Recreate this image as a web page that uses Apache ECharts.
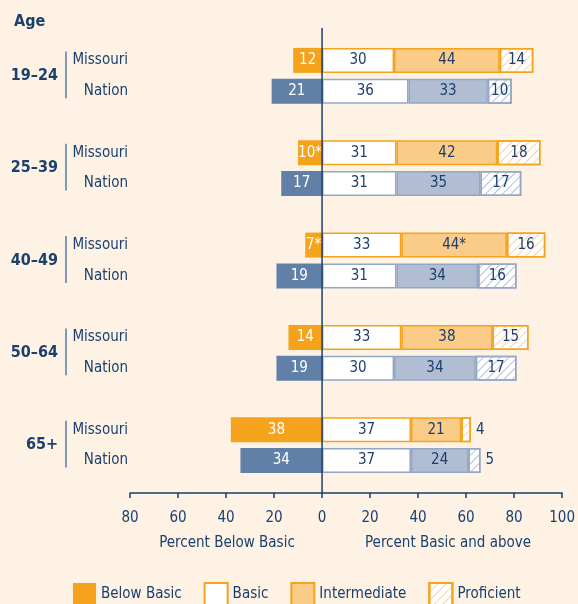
<!DOCTYPE html>
<html>
<head>
<meta charset="utf-8">
<script src="https://cdn.jsdelivr.net/npm/echarts@6/dist/echarts.min.js"></script>
<style>
  html, body { margin: 0; padding: 0; background: #FDF2E4; }
  #chart { width: 578px; height: 604px; }
</style>
</head>
<body>
<div id="chart"></div>
<script>
// data
const ageGroups = ['19–24', '25–39', '40–49', '50–64', '65+']
const places = ['Missouri', 'Nation']
const missouriBelow = [12, 10, 7, 14, 38]
const nationBelow = [21, 17, 19, 19, 34]
const missouriBasic = [30, 31, 33, 33, 37]
const nationBasic = [36, 31, 31, 30, 37]
const missouriInter = [44, 42, 44, 38, 21]
const nationInter = [33, 35, 34, 34, 24]
const missouriProf = [14, 18, 16, 15, 4]
const nationProf = [10, 17, 16, 17, 5]
const missouriBelowStar = [false, true, true, false, false]
const missouriInterStar = [false, false, true, false, false]
const xTicks = [-80, -60, -40, -20, 0, 20, 40, 60, 80, 100]

const FONT = '"DejaVu Sans Condensed", "Liberation Sans Narrow", sans-serif'
const NAVY = '#1B3F6E'
const ORANGE = '#F5A21C'
const ORANGE_LIGHT = '#FBCB88'
const ORANGE_HATCH = '#F9D3A0'
const BLUE = '#6180A8'
const BLUE_LIGHT = '#B1BDD3'
const BLUE_BORDER = '#93A6C4'
const BLUE_HATCH = '#B3C0D6'

// categories: Missouri, Nation, spacer per age group
const cats = []
ageGroups.forEach((g, i) => {
  cats.push(g + '|' + places[0])
  cats.push(g + '|' + places[1])
  if (i < ageGroups.length - 1) cats.push(g + '|')
})

function hatch(color) {
  return {
    symbol: 'rect',
    symbolSize: 1,
    dashArrayX: [1, 0],
    dashArrayY: [1, 5],
    rotation: -Math.PI / 4,
    color: color
  }
}

function build(mo, na, styleMo, styleNa, labelFn) {
  const out = []
  ageGroups.forEach((g, i) => {
    out.push({ value: mo[i], itemStyle: styleMo, label: labelFn(mo[i], i, 0) })
    out.push({ value: na[i], itemStyle: styleNa, label: labelFn(na[i], i, 1) })
    if (i < ageGroups.length - 1) out.push(null)
  })
  return out
}

const chart = echarts.init(document.getElementById('chart'))

const labelBase = {
  show: true,
  fontFamily: FONT,
  fontSize: 15,
  color: NAVY
}

chart.setOption({
  backgroundColor: '#FDF2E4',
  textStyle: { fontFamily: FONT },
  animation: false,
  title: {
    text: 'Age',
    left: 14,
    top: 14,
    padding: 0,
    textStyle: { fontFamily: FONT, fontSize: 16, fontWeight: 'bold', color: NAVY }
  },
  legend: {
    left: 73,
    top: 582,
    padding: 0,
    icon: 'rect',
    itemWidth: 23,
    itemHeight: 22,
    itemGap: 22,
    textStyle: { fontFamily: FONT, fontSize: 15, color: NAVY }
  },
  grid: { left: 130, right: 15, top: 45, height: 431 },
  xAxis: {
    type: 'value',
    min: -80,
    max: 100,
    interval: 20,
    offset: 17,
    splitLine: { show: false },
    axisLine: { show: true, lineStyle: { color: NAVY, width: 1.5 } },
    axisTick: { show: true, length: 5, lineStyle: { color: NAVY, width: 1.5 } },
    axisLabel: {
      margin: 18,
      fontSize: 15,
      color: NAVY,
      fontFamily: FONT,
      formatter: v => xTicks.includes(v) ? String(Math.abs(v)) : ''
    }
  },
  yAxis: [
    {
      type: 'category',
      inverse: true,
      data: cats,
      position: 'left',
      axisLine: { show: false, onZero: false },
      axisTick: { show: false },
      axisLabel: {
        margin: 2,
        fontSize: 15,
        color: NAVY,
        fontFamily: FONT,
        formatter: v => v.split('|')[1]
      }
    },
    {
      type: 'category',
      inverse: true,
      data: cats,
      position: 'left',
      offset: 64,
      axisLine: { show: false, onZero: false },
      axisTick: { show: false },
      axisLabel: {
        margin: 8,
        fontSize: 16,
        fontWeight: 'bold',
        color: NAVY,
        fontFamily: FONT,
        lineHeight: 31,
        formatter: v => v.split('|')[1] === places[0] ? '\n' + v.split('|')[0] : ''
      }
    }
  ],
  series: [
    {
      name: 'Below Basic',
      type: 'bar',
      stack: 'total',
      barWidth: 25,
      itemStyle: { color: ORANGE },
      data: build(missouriBelow.map(v => -v), nationBelow.map(v => -v),
        { color: ORANGE }, { color: BLUE },
        (v, i, p) => ({ ...labelBase, color: '#fff',
          formatter: Math.abs(v) + (p === 0 && missouriBelowStar[i] ? '*' : '') }))
    },
    {
      name: 'Basic',
      type: 'bar',
      stack: 'total',
      barWidth: 25,
      itemStyle: { color: '#fff', borderColor: ORANGE, borderWidth: 1.5 },
      data: build(missouriBasic, nationBasic,
        { color: '#fff', borderColor: ORANGE, borderWidth: 1.5 },
        { color: '#fff', borderColor: BLUE_BORDER, borderWidth: 1.5 },
        v => ({ ...labelBase, formatter: String(v) }))
    },
    {
      name: 'Intermediate',
      type: 'bar',
      stack: 'total',
      barWidth: 25,
      itemStyle: { color: ORANGE_LIGHT, borderColor: ORANGE, borderWidth: 1.5 },
      data: build(missouriInter, nationInter,
        { color: ORANGE_LIGHT, borderColor: ORANGE, borderWidth: 1.5 },
        { color: BLUE_LIGHT, borderColor: BLUE_BORDER, borderWidth: 1.5 },
        (v, i, p) => ({ ...labelBase,
          formatter: v + (p === 0 && missouriInterStar[i] ? '*' : '') }))
    },
    {
      name: 'Proficient',
      type: 'bar',
      stack: 'total',
      barWidth: 25,
      itemStyle: { color: '#fff', borderColor: ORANGE, borderWidth: 1.5, decal: hatch(ORANGE_HATCH) },
      data: build(missouriProf, nationProf,
        { color: '#fff', borderColor: ORANGE, borderWidth: 1.5, decal: hatch(ORANGE_HATCH) },
        { color: '#fff', borderColor: BLUE_BORDER, borderWidth: 1.5, decal: hatch(BLUE_HATCH) },
        v => v < 6
          ? { ...labelBase, position: 'right', distance: 5, formatter: String(v) }
          : { ...labelBase, formatter: String(v) })
    }
  ]
})

// zero line, group separators, axis captions
const x0 = chart.convertToPixel({ xAxisIndex: 0 }, 0)
const graphics = [
  {
    type: 'line',
    shape: { x1: x0, y1: 28, x2: x0, y2: 493 },
    style: { stroke: NAVY, lineWidth: 1.5 },
    z: 10
  },
  {
    type: 'text',
    style: { text: 'Percent Below Basic', x: 227, y: 543, align: 'center', verticalAlign: 'middle',
      font: '15px ' + FONT, fill: NAVY }
  },
  {
    type: 'text',
    style: { text: 'Percent Basic and above', x: 448, y: 543, align: 'center', verticalAlign: 'middle',
      font: '15px ' + FONT, fill: NAVY }
  }
]
ageGroups.forEach(g => {
  const yTop = chart.convertToPixel({ yAxisIndex: 0 }, g + '|' + places[0])
  const yBot = chart.convertToPixel({ yAxisIndex: 0 }, g + '|' + places[1])
  graphics.push({
    type: 'line',
    shape: { x1: 66, y1: yTop - 9, x2: 66, y2: yBot + 7 },
    style: { stroke: '#8197B8', lineWidth: 2 }
  })
})
chart.setOption({ graphic: graphics })
</script>
</body>
</html>
